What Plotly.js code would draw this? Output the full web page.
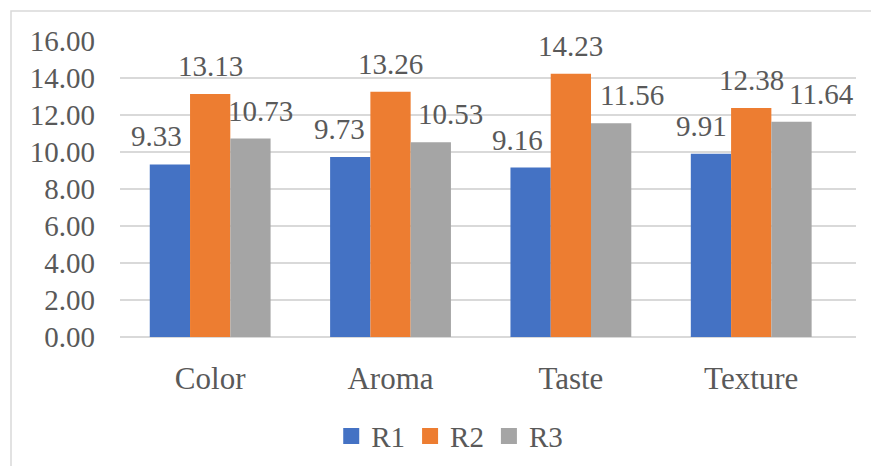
<!DOCTYPE html>
<html>
<head>
<meta charset="utf-8">
<script src="https://cdn.plot.ly/plotly-3.0.1.min.js"></script>
<style>html,body{margin:0;padding:0;background:#fff;}#chart{width:871px;height:466px;}</style>
</head>
<body>
<div id="chart"></div>
<script>
// ---- data ----
const categories = ["Color", "Aroma", "Taste", "Texture"];
const seriesNames = ["R1", "R2", "R3"];
const R1 = [9.33, 9.73, 9.16, 9.91];
const R2 = [13.13, 13.26, 14.23, 12.38];
const R3 = [10.73, 10.53, 11.56, 11.64];
const yTicks = [0, 2, 4, 6, 8, 10, 12, 14, 16];

// ---- style ----
const colors = ["#4472C4", "#ED7D31", "#A5A5A5"];
const textColor = "#595959";
const fontFamily = "Liberation Serif, Times New Roman, serif";
const bargap = 0.33;
// horizontal nudges (px) of the value labels, as placed in the original
const labelNudge = [[-13, -11, -13, -9], [0, 0, 0, 0], [10, 20, 21, 30]];

const values = [R1, R2, R3];
const traces = values.map((v, i) => ({
  type: "bar", x: categories, y: v, name: seriesNames[i],
  marker: {color: colors[i], line: {width: 0}},
  showlegend: false, hoverinfo: "skip"
}));
// legend proxies (square markers)
values.forEach((v, i) => traces.push({
  type: "scatter", mode: "markers", x: [null], y: [null], name: seriesNames[i],
  marker: {symbol: "square", size: 16, color: colors[i]}, showlegend: true
}));

const nS = values.length;
const bw = (1 - bargap) / nS;
const annotations = [];
values.forEach((v, i) => v.forEach((val, j) => {
  annotations.push({
    xref: "x", yref: "y", x: j + (i - (nS - 1) / 2) * bw, y: val,
    text: val.toFixed(2), showarrow: false, yanchor: "bottom", xanchor: "center",
    xshift: labelNudge[i][j], yshift: 10,
    font: {family: fontFamily, size: 29, color: textColor}
  });
}));

const layout = {
  width: 871, height: 466,
  margin: {l: 120, r: 15, t: 41, b: 129, autoexpand: false},
  paper_bgcolor: "#ffffff", plot_bgcolor: "#ffffff",
  font: {family: fontFamily, color: textColor, size: 29},
  barmode: "group", bargap: bargap, bargroupgap: 0,
  xaxis: {
    type: "category", showgrid: false, zeroline: false, showline: false, ticks: "",
    tickfont: {family: fontFamily, size: 31, color: textColor},
    ticklabelstandoff: 20, fixedrange: true
  },
  yaxis: {
    range: [0, 16], tickvals: yTicks, ticktext: yTicks.map(t => t.toFixed(2)),
    showgrid: true, gridcolor: "#D9D9D9", gridwidth: 1.5, zeroline: true, zerolinecolor: "#D9D9D9", zerolinewidth: 1.5,
    showline: false, ticks: "",
    tickfont: {family: fontFamily, size: 29, color: textColor},
    ticklabelstandoff: 24, fixedrange: true
  },
  legend: {
    orientation: "h", x: 0.448, xanchor: "center", y: -0.335, yanchor: "middle",
    font: {family: fontFamily, size: 29, color: textColor},
    itemwidth: 30, tracegroupgap: 0, bgcolor: "rgba(0,0,0,0)"
  },
  annotations: annotations,
  shapes: [{
    type: "rect", xref: "paper", yref: "paper",
    x0: (11 - 120) / 736, x1: 1.2, y0: -1, y1: (337 - 11) / 296,
    line: {color: "#D9D9D9", width: 1.5}, fillcolor: "rgba(0,0,0,0)", layer: "below"
  }]
};

Plotly.newPlot("chart", traces, layout, {displayModeBar: false, staticPlot: true});
</script>
</body>
</html>
